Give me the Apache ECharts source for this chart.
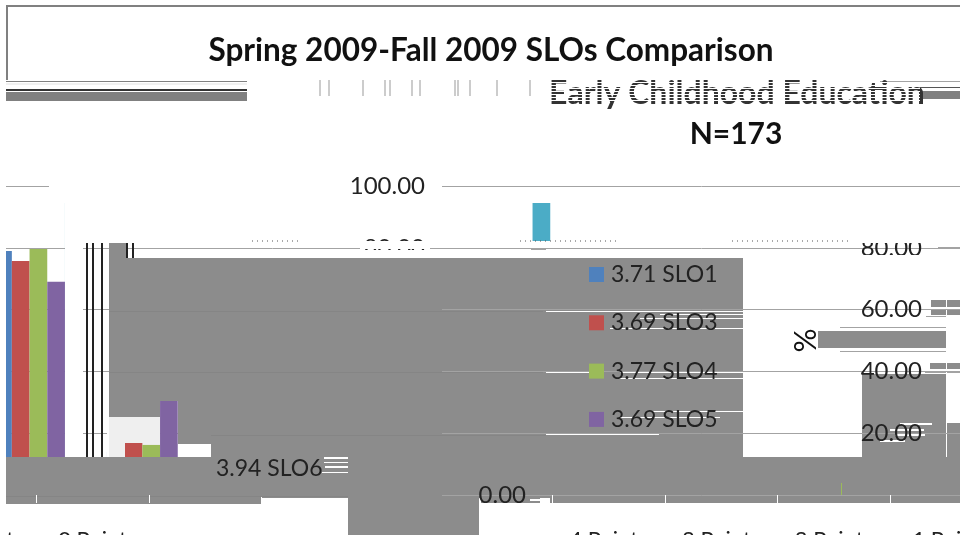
<!DOCTYPE html>
<html>
<head>
<meta charset="utf-8">
<style>html,body{margin:0;padding:0;background:#fff}#chart{width:960px;height:542px}</style>
<script src="https://cdn.jsdelivr.net/npm/echarts@6/dist/echarts.min.js"></script>
</head>
<body>
<div id="chart"></div>
<script>
var categories = ['4 Points', '3 Points', '2 Points', '1 Point', '0 Point'];
var seriesNames = ['3.71 SLO1', '3.69 SLO3', '3.77 SLO4', '3.69 SLO5', '3.94 SLO6'];
var slo1 = [79.0, 14.0, 5.0, 1.0, 1.0];
var slo3 = [75.7, 16.8, 7.0, 0.5, 0];
var slo4 = [79.6, 16.2, 3.9, 0.3, 0];
var slo5 = [69.0, 30.4, 0.6, 0, 0];
var slo6 = [94.5, 4.5, 1.0, 0, 0];
var colors = ['#4f81bd', '#c0504d', '#9bbb59', '#8064a2', '#4bacc6'];

var GREY = '#8c8c8c', LINE = '#a3a3a3', DARK = '#858585', FONT = 'Lato';
var TOP = 186, PLOT_H = 309, BAR_W = 17.7;

// the picture is torn: pieces of the page sit over the chart. [x, y, w, h, colour]
var torn = [
  // frame and bands under it
  [6, 5, 954, 2, '#808080'], [6, 5, 2, 75, '#808080'], [6, 81, 241, 1, '#808080'], [6, 83, 241, 2, '#f0f0f0'],
  [6, 89, 241, 2, '#333'], [6, 92, 241, 9, '#808080'], [880, 81, 80, 1, LINE], [920, 87, 40, 1, '#555'], [920, 91, 40, 8, '#808080'],
  // left side
  ['w', 0, 0, 6, 542], ['w', 49, 180, 393, 12], ['w', 65, 190, 18, 267],
  [109, 243, 18, 174, GREY], [127, 258, 33, 159, GREY], [160, 258, 18, 143, GREY], [178, 258, 33, 186, GREY],
  [211, 258, 532, 199, GREY], ['w', 178, 444, 33, 13], ['#efefef', 109, 417, 16, 40], ['w', 107, 417, 2, 40],
  [86, 243, 2, 214, '#222'], [92, 243, 2, 214, '#222'], [101, 243, 2, 214, '#222'], [126, 243, 2, 15, '#222'], [132, 243, 2, 15, '#222'],
  // bottom band, with a slit for the one bar that shows through
  [6, 457, 835, 41, GREY], [841, 457, 1, 26, GREY], [841, 495, 1, 3, GREY], [842, 457, 118, 41, GREY],
  [6, 498, 255, 6, GREY], [348, 498, 131, 37, GREY], [481, 498, 59, 5, GREY], [550, 498, 410, 5, GREY],
  [109, 311, 434, 1, DARK], [109, 372, 434, 1, DARK], [211, 435, 335, 1, DARK], [6, 496, 342, 1, DARK], [261, 497, 1, 6, '#fff'],
  // white window and right column
  ['w', 546, 241, 197, 17], ['w', 531, 241, 15, 8], ['w', 531, 250, 20, 8], [531, 249, 15, 1, LINE], ['w', 743, 241, 119, 216],
  ['w', 862, 241, 98, 133], ['w', 946, 374, 14, 49], ['w', 946, 423, 1, 34], [947, 423, 13, 34, GREY], [947, 433, 13, 1, DARK],
  [938, 247, 22, 1, LINE],
  [862, 374, 84, 83, GREY],
  [931, 300, 15, 7, GREY], [947, 300, 13, 7, GREY], [931, 309, 15, 6, GREY], [947, 309, 13, 6, GREY], [926, 316, 20, 1, LINE],
  [840, 327, 106, 1, LINE], [818, 331, 128, 17, GREY], [840, 351, 106, 1, LINE],
  [930, 363, 16, 6, GREY], [947, 363, 13, 6, GREY], [925, 371, 21, 2, LINE], [947, 371, 13, 2, LINE],
  // white scratches through the grey
  ['w', 546, 311, 197, 1], ['w', 640, 318, 103, 1], ['w', 660, 314, 83, 1], ['w', 610, 328, 133, 1], ['w', 546, 372, 43, 1],
  ['w', 620, 372, 123, 1], ['w', 616, 378, 127, 1], ['w', 650, 411, 93, 1], ['w', 620, 417, 100, 1], ['w', 546, 434, 113, 1],
  ['w', 324, 457, 24, 2], ['w', 324, 462, 24, 1], ['w', 325, 466, 23, 2], ['w', 322, 472, 26, 1],
  ['w', 900, 423, 32, 2], ['w', 890, 429, 34, 2], ['w', 895, 434, 30, 2], ['w', 880, 440, 25, 2], ['w', 530, 499, 10, 2]
];
// these go over the text
var tornOverText = [
  [545, 82, 375, 1], [545, 85, 375, 1], [545, 88, 375, 1], [545, 91, 375, 1], [545, 94, 375, 1], [545, 97, 375, 1], [545, 100, 375, 1],
  [360, 241, 70, 8], [360, 250, 70, 8], [855, 232, 80, 11], [855, 255, 70, 10], [0, 535, 960, 7]
];
var dotted = [[520, 616, 241], [732, 850, 241], [252, 300, 241]];
var stubs = [320, 329, 363, 385, 390, 412, 420, 455, 458, 470, 497, 530];

function rect(x, y, w, h, fill, z) {
  return { type: 'rect', shape: { x: x, y: y, width: w, height: h }, style: { fill: fill }, z: z, silent: true };
}

var graphics = [rect(125, 417, 35, 40, '#efefef', 1)];
torn.forEach(function (p) {
  if (typeof p[0] === 'string') graphics.push(rect(p[1], p[2], p[3], p[4], p[0] === 'w' ? '#fff' : p[0], 100));
  else graphics.push(rect(p[0], p[1], p[2], p[3], p[4], 100));
});
tornOverText.forEach(function (p) { graphics.push(rect(p[0], p[1], p[2], p[3], '#fff', 300)); });
graphics.push(rect(360, 258, 70, 8, GREY, 300));
dotted.forEach(function (d) {
  graphics.push({ type: 'line', shape: { x1: d[0], y1: d[2], x2: d[1], y2: d[2] }, style: { stroke: '#555', lineDash: [1, 4] }, z: 301, silent: true });
});
stubs.forEach(function (x) {
  graphics.push({ type: 'line', shape: { x1: x, y1: 80, x2: x, y2: 96 }, style: { stroke: '#999' }, z: 301, silent: true });
});

var grids = [], xAxes = [], yAxes = [];
function panel(left, width, x, y) {
  var i = grids.length;
  grids.push({ left: left, width: width, top: TOP, height: PLOT_H, outerBoundsMode: 'none' });
  xAxes.push(Object.assign({ type: 'category', gridIndex: i, data: categories, axisLine: { show: false }, axisTick: { show: false }, axisLabel: { show: false } }, x));
  yAxes.push(Object.assign({ type: 'value', gridIndex: i, min: 0, max: 100, interval: 20, axisLine: { show: false }, axisTick: { show: false }, axisLabel: { show: false }, splitLine: { show: false } }, y));
  return i;
}
function valueLabels(shown, margin) {
  return {
    show: true, margin: margin, fontFamily: FONT, fontSize: 24, color: '#222', showMinLabel: true, showMaxLabel: true,
    formatter: function (v) { return shown.indexOf(v) >= 0 ? v.toFixed(2) : ''; }
  };
}
function pointLabels() {
  return {
    z: 200,
    axisTick: { show: true, length: 8, lineStyle: { color: '#fff' } },
    axisLabel: { show: true, interval: 0, margin: 34, fontFamily: FONT, fontSize: 22, color: '#222' }
  };
}

var gridLines = { show: true, lineStyle: { color: LINE, width: 1 } };
var barPanel = panel(-18, 564, {}, { splitLine: gridLines });
var tealPanel = panel(485, 564, {}, {});
var greenPanel = panel(552, 564, pointLabels(), {});
panel(-415, 564, pointLabels(), {});
panel(442, 571, {}, { z: 200, splitLine: gridLines, axisLabel: valueLabels([100, 80], 17) });
panel(939, 564, {}, {
  z: 200, axisLabel: valueLabels([80, 60, 40, 20], 17),
  name: '%', nameLocation: 'middle', nameGap: 118, nameRotate: 90,
  nameTextStyle: { fontFamily: FONT, fontSize: 30, color: '#111' }
});
panel(543, 564, {}, { z: 200, axisLabel: valueLabels([0], 17) });

function bars(name, values, color, grid) {
  return {
    type: 'bar', name: name, data: values, xAxisIndex: grid, yAxisIndex: grid, barWidth: BAR_W, barGap: 0,
    itemStyle: { color: color }, silent: true, animation: false
  };
}
var seriesList = [slo1, slo3, slo4, slo5, slo6].map(function (v, i) {
  return bars(seriesNames[i], v, colors[i], barPanel);
});
seriesList.push(bars(seriesNames[4], slo6, colors[4], tealPanel));
seriesList.push(bars(seriesNames[2], slo4, colors[2], greenPanel));

var legendBase = {
  orient: 'vertical', selectedMode: false, icon: 'rect', itemWidth: 15, itemHeight: 15, itemGap: 25.3, z: 200,
  textStyle: { fontFamily: FONT, fontSize: 23, color: '#222', padding: [0, 0, 0, 2] }
};

var chart = echarts.init(document.getElementById('chart'), null, { renderer: 'canvas' });
chart.setOption({
  animation: false,
  backgroundColor: '#fff',
  title: [
    { text: 'Spring 2009-Fall 2009 SLOs Comparison', left: 486, top: 30, textAlign: 'center', z: 200,
      textStyle: { fontFamily: FONT, fontSize: 31.5, fontWeight: 'bold', color: '#111' } },
    { text: 'Early Childhood Education', left: 732, top: 73, textAlign: 'center', z: 200,
      textStyle: { fontFamily: FONT, fontSize: 32, fontWeight: 'bold', color: '#333' } },
    { text: 'N=173', left: 731, top: 114, textAlign: 'center', z: 200,
      textStyle: { fontFamily: FONT, fontSize: 30, fontWeight: 'bold', color: '#111' } }
  ],
  grid: grids,
  xAxis: xAxes,
  yAxis: yAxes,
  legend: [
    Object.assign({}, legendBase, { left: 584, top: 258, data: seriesNames.slice(0, 4) }),
    Object.assign({}, legendBase, { left: 189, top: 452, data: [{ name: seriesNames[4], itemStyle: { color: GREY } }] })
  ],
  series: seriesList,
  graphic: { elements: graphics }
});
</script>
</body>
</html>
